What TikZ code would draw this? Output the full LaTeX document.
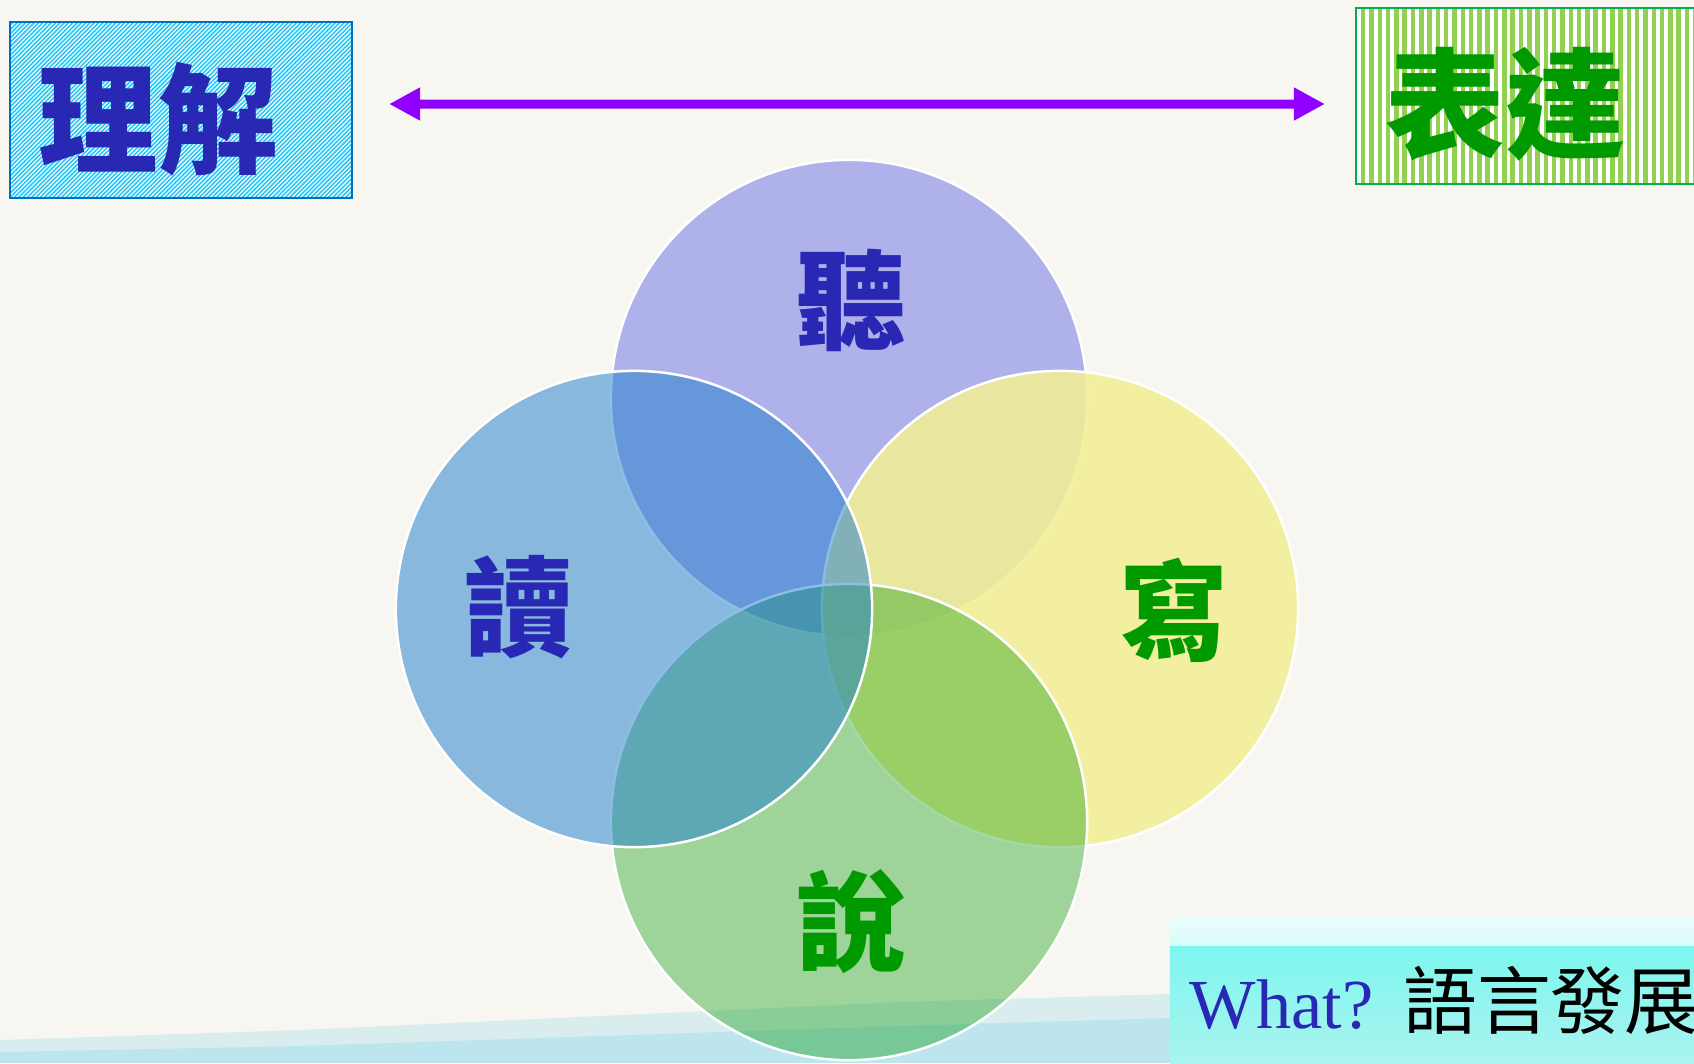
\documentclass[tikz,border=0pt]{standalone}
\usepackage{fontspec}
\setmainfont{Liberation Serif}
\newfontfamily\cjk{Noto Sans CJK TC}
\usetikzlibrary{arrows.meta, calc, positioning}

\definecolor{paper}{RGB}{248,246,241}
\definecolor{bandcyan}{RGB}{160,222,236}
\definecolor{tingfill}{RGB}{127,131,232}
\definecolor{dufill}{RGB}{35,129,204}
\definecolor{xiefill}{RGB}{242,239,148}
\definecolor{shuofill}{RGB}{0,150,0}
\definecolor{inkblue}{RGB}{40,40,180}
\definecolor{inkgreen}{RGB}{0,153,0}
\definecolor{stripeblue}{RGB}{46,200,245}
\definecolor{boxblue}{RGB}{0,112,192}
\definecolor{stripegreen}{RGB}{146,208,80}
\definecolor{boxgreen}{RGB}{0,176,80}
\definecolor{arrowviolet}{RGB}{144,0,255}
\definecolor{cyantop}{RGB}{236,253,252}
\definecolor{cyanmain}{RGB}{126,246,238}
\definecolor{cyanlow}{RGB}{170,243,240}

\tikzset{
  ring/.style={circle, minimum size=4.76cm, inner sep=0pt, draw=white, line width=0.025cm},
  hanzi/.style={font=\cjk\bfseries\fontsize{31pt}{31pt}\selectfont, inner sep=0pt},
  bighanzi/.style={font=\cjk\bfseries\fontsize{34pt}{34pt}\selectfont, inner sep=0pt},
  biarrow/.style={{Triangle[length=0.31cm,width=0.31cm]}-{Triangle[length=0.31cm,width=0.31cm]},
    line width=0.09cm, draw=arrowviolet},
}

\begin{document}
\begin{tikzpicture}[x=0.01cm, y=-0.01cm]
\path[use as bounding box, fill=paper] (0,0) rectangle (1694,1063);

% band at the bottom
\fill[bandcyan, opacity=0.35]
  (0,1063) -- (0,1040) -- (300,1030) -- (600,1016) -- (900,1002) -- (1170,994) -- (1170,1063) -- cycle;
\fill[bandcyan, opacity=0.5]
  (0,1063) -- (0,1052) -- (300,1046) -- (600,1036) -- (900,1026) -- (1170,1018) -- (1170,1063) -- cycle;

% the two boxes
\node[minimum width=3.42cm, minimum height=1.75cm, inner sep=0pt, fill=white,
  draw=boxblue, line width=0.02cm,
  path picture={
    \foreach \k in {-42,...,81}
      \draw[stripeblue, line width=0.016cm]
        ([xshift=\k*0.043cm]path picture bounding box.south west) -- ++(1.75cm,1.75cm);
  }] (lijie) at (181,110) {};
\node[minimum width=3.5cm, minimum height=1.75cm, inner sep=0pt, fill=white,
  draw=boxgreen, line width=0.02cm,
  path picture={
    \foreach \k in {0,...,42}
      \fill[stripegreen]
        ([xshift=\k*0.083cm+0.05cm]path picture bounding box.south west) rectangle ++(0.045cm,1.75cm);
  }] (biaoda) at (1531,96) {};

\node[bighanzi, text=inkblue] (lijietext) at (158,119) {理解};
\node[bighanzi, text=inkgreen] (biaodatext) at (1505,104) {表達};

\draw[biarrow, shorten <=0.36cm, shorten >=0.30cm]
  ([yshift=0.06cm]lijie.east) -- ([yshift=-0.08cm]biaoda.west);

% four circles
\node[ring, fill=tingfill, fill opacity=0.6] (ting) at (849,398) {};
\node[ring, fill=xiefill, fill opacity=0.87] (xie) at (1060,609) {};
\node[ring, fill=shuofill, fill opacity=0.36] (shuo) at (849,822) {};
\node[ring, fill=dufill, fill opacity=0.52] (du) at (634,609) {};

\node[hanzi, text=inkblue] (tingtext) at (851,300) {聽};
\node[hanzi, text=inkblue] (dutext) at (519,607) {讀};
\node[hanzi, text=inkgreen] (xietext) at (1174,610) {寫};
\node[hanzi, text=inkgreen] (shuotext) at (851,922) {說};

% title box
\node[minimum width=5.24cm, minimum height=1.46cm, inner sep=0pt,
  path picture={
    \fill[top color=cyantop, bottom color=cyanmain]
      (path picture bounding box.north west) rectangle ([yshift=-0.3cm]path picture bounding box.north east);
    \fill[top color=cyanmain, bottom color=cyanlow]
      ([yshift=-0.3cm]path picture bounding box.north west) rectangle (path picture bounding box.south east);
  }] (what) at (1432,990) {};
\node[anchor=base west, inner sep=0pt, font=\fontsize{20pt}{20pt}\selectfont] (whattext) at (1189,1028)
  {\textcolor{inkblue}{What?}\hspace{0.3cm}{\cjk\fontsize{21pt}{21pt}\selectfont 語言發展}};
\end{tikzpicture}
\end{document}
